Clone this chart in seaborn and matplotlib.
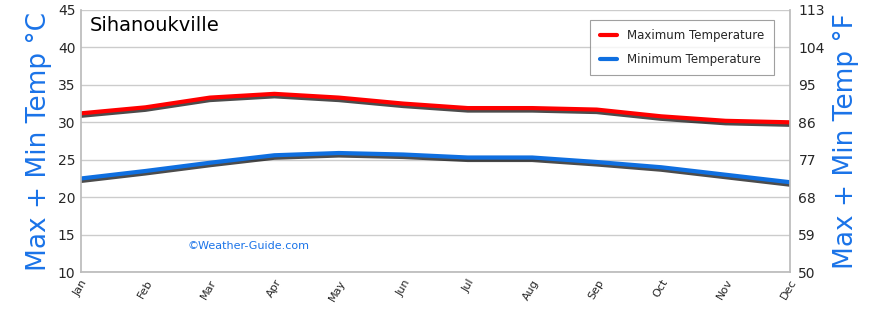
import matplotlib
matplotlib.use("Agg")
import matplotlib.pyplot as plt
import matplotlib.patheffects as pe
import seaborn as sns
import pandas as pd

months = ["Jan", "Feb", "Mar", "Apr", "May", "Jun", "Jul", "Aug", "Sep", "Oct", "Nov", "Dec"]
max_temp = [31.2, 32.0, 33.3, 33.8, 33.3, 32.5, 31.9, 31.9, 31.7, 30.8, 30.2, 30.0]
min_temp = [22.5, 23.5, 24.6, 25.6, 25.9, 25.7, 25.3, 25.3, 24.7, 24.0, 23.0, 22.0]
c_ticks = [10, 15, 20, 25, 30, 35, 40, 45]
f_labels = ["50", "59", "68", "77", "86", "95", "104", "113"]

sns.set_theme(style="white")
plt.rcParams['font.family'] = ['DejaVu Sans']

df = pd.DataFrame({"idx": range(12), "Month": months, "Max": max_temp, "Min": min_temp})

fig = plt.figure(figsize=(8.7, 3.12), dpi=100)
ax = fig.add_axes([0.0931, 0.128, 0.815, 0.84])

shadow = [pe.SimpleLineShadow(offset=(0, -1.8), shadow_color="black", alpha=0.7), pe.Normal()]
sns.lineplot(data=df, x="idx", y="Max", ax=ax, color="#ff0000", linewidth=3,
             label="Maximum Temperature", path_effects=shadow)
sns.lineplot(data=df, x="idx", y="Min", ax=ax, color="#0f6fe0", linewidth=3,
             label="Minimum Temperature", path_effects=shadow)

ax.set_xlim(0, 11)
ax.set_ylim(10, 45)
ax.set_yticks(c_ticks)
ax.set_yticklabels([str(t) for t in c_ticks], fontsize=10)
ax.set_xticks(range(12))
ax.set_xticklabels(months, rotation=60, fontsize=8, ha="right", rotation_mode="anchor")
ax.grid(axis="y", color="#cccccc", linewidth=1)
ax.tick_params(axis="both", length=0, pad=4)
for s in ["top", "right"]:
    ax.spines[s].set_visible(False)
for s in ["left", "bottom"]:
    ax.spines[s].set_color("#bbbbbb")
ax.set_xlabel("")
ax.set_ylabel("Max + Min Temp °C", fontsize=19, color="#1a73e8", labelpad=4)

ax2 = ax.twinx()
ax2.set_ylim(10, 45)
ax2.set_yticks(c_ticks)
ax2.set_yticklabels(f_labels, fontsize=10)
ax2.tick_params(axis="y", length=0, pad=6)
for s in ["top", "left", "bottom"]:
    ax2.spines[s].set_visible(False)
ax2.spines["right"].set_color("#bbbbbb")
ax2.set_ylabel("Max + Min Temp °F", fontsize=19, color="#1a73e8", labelpad=6)

ax.text(0.013, 0.94, "Sihanoukville", transform=ax.transAxes, fontsize=14,
        va="center", ha="left", color="black")
ax.text(0.15, 0.1, "©Weather-Guide.com", transform=ax.transAxes, fontsize=8,
        va="center", ha="left", color="#1a73e8")

leg = ax.legend(loc="upper right", fontsize=8.5, frameon=True, fancybox=False,
                edgecolor="#888888", borderpad=0.8, labelspacing=0.9,
                handlelength=1.5, bbox_to_anchor=(0.985, 0.985))
leg.get_frame().set_linewidth(0.8)
for line in leg.get_lines():
    line.set_linewidth(3)
    line.set_path_effects([])

fig.savefig("out.png", dpi=100)
